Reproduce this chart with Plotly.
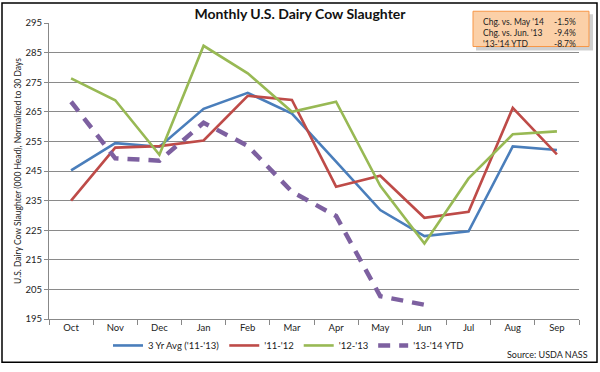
import plotly.graph_objects as go

months = ["Oct", "Nov", "Dec", "Jan", "Feb", "Mar", "Apr", "May", "Jun", "Jul", "Aug", "Sep"]
avg_3yr = [245.2, 254.4, 253.2, 266.0, 271.4, 264.4, 248.2, 231.8, 223.0, 224.6, 253.3, 252.1]
y_11_12 = [235.0, 252.9, 253.4, 255.3, 270.4, 269.0, 239.7, 243.4, 229.2, 231.2, 266.3, 250.6]
y_12_13 = [276.3, 268.9, 250.5, 287.3, 278.0, 265.0, 268.4, 240.0, 220.5, 242.5, 257.4, 258.4]
ytd_13_14 = [268.4, 249.3, 248.5, 261.3, 253.5, 238.0, 229.8, 202.7, 199.8]

series_names = ["3 Yr Avg ('11-'13)", "'11-'12", "'12-'13", "'13-'14 YTD"]
box_labels = ["Chg. vs. May '14", "Chg. vs. Jun. '13", "'13-'14 YTD"]
box_values = ["-1.5%", "-9.4%", "-8.7%"]
y_ticks = list(range(195, 296, 10))

font_family = "Lato, 'Open Sans', sans-serif"

PL, PT, PW, PH = 49, 23, 530, 302


def px(x):
    return (x - PL) / PW


def py(y):
    return (PT + PH - y) / PH


fig = go.Figure()
fig.add_trace(go.Scatter(x=months, y=avg_3yr, name=series_names[0], mode="lines",
                         line=dict(color="#4A7EBB", width=2.6)))
fig.add_trace(go.Scatter(x=months, y=y_11_12, name=series_names[1], mode="lines",
                         line=dict(color="#BE4B48", width=2.6)))
fig.add_trace(go.Scatter(x=months, y=y_12_13, name=series_names[2], mode="lines",
                         line=dict(color="#98B954", width=2.6)))
fig.add_trace(go.Scatter(x=months[:len(ytd_13_14)], y=ytd_13_14, name=series_names[3], mode="lines",
                         line=dict(color="#7D60A0", width=4.5, dash="12px,9px")))

fig.update_layout(
    width=600, height=372,
    margin=dict(l=PL, r=600 - PL - PW, t=PT, b=372 - PT - PH),
    paper_bgcolor="white", plot_bgcolor="white",
    font=dict(family=font_family, size=9, color="#222"),
    title=dict(text="<b>Monthly U.S. Dairy Cow Slaughter</b>", x=0.5, xanchor="center",
               y=0.962, yanchor="middle", font=dict(size=14, color="#111")),
    showlegend=True,
    legend=dict(orientation="h", x=px(108), xanchor="left", y=py(352), yanchor="middle",
                font=dict(size=9.5, color="#222"), bgcolor="rgba(0,0,0,0)",
                itemwidth=30, tracegroupgap=0),
    xaxis=dict(type="category", range=[-0.5, 11.5], showgrid=False,
               showline=True, linecolor="#888", linewidth=1,
               ticks="outside", tickson="boundaries", ticklen=5, tickcolor="#888",
               tickfont=dict(size=9.5, color="#222")),
    yaxis=dict(range=[195, 295], tickvals=y_ticks, showgrid=True, gridcolor="#8a8a8a", gridwidth=1,
               showline=True, linecolor="#888", linewidth=1, ticks="outside", ticklen=4, tickcolor="#888",
               tickfont=dict(size=9.5, color="#222"), zeroline=False,
               title=dict(text="U.S. Dairy Cow Slaughter (000 Head), Normalized to 30 Days",
                          font=dict(size=8.5, color="#222"), standoff=2)),
)

# outer border
fig.add_shape(type="rect", xref="paper", yref="paper", x0=px(2), x1=px(597), y0=py(369), y1=py(2.5),
              line=dict(color="#000", width=1.5), fillcolor="rgba(0,0,0,0)", layer="above")

# orange info box (shadow + box)
fig.add_shape(type="rect", xref="paper", yref="paper",
              x0=px(476), x1=px(593), y0=py(51), y1=py(14),
              line=dict(width=0), fillcolor="rgba(120,120,120,0.35)", layer="above")
fig.add_shape(type="rect", xref="paper", yref="paper",
              x0=px(473), x1=px(589), y0=py(47), y1=py(11),
              line=dict(color="#F79646", width=1), fillcolor="#FBD0A8", layer="above")
rows_y = [22, 33, 44]
for lab, val, ry in zip(box_labels, box_values, rows_y):
    fig.add_annotation(xref="paper", yref="paper", x=px(481), y=py(ry),
                       text=lab, showarrow=False, xanchor="left", yanchor="middle",
                       font=dict(size=8.5, color="#222"))
    fig.add_annotation(xref="paper", yref="paper", x=px(578), y=py(ry),
                       text=val, showarrow=False, xanchor="right", yanchor="middle",
                       font=dict(size=8.5, color="#222"))

fig.add_annotation(xref="paper", yref="paper", x=px(590), y=py(361),
                   text="Source: USDA NASS", showarrow=False, xanchor="right", yanchor="middle",
                   font=dict(size=9, color="#222"))

fig.write_html("out.html", config={"displayModeBar": False},
               post_script="document.body.style.margin='0';document.body.style.overflow='hidden';")
